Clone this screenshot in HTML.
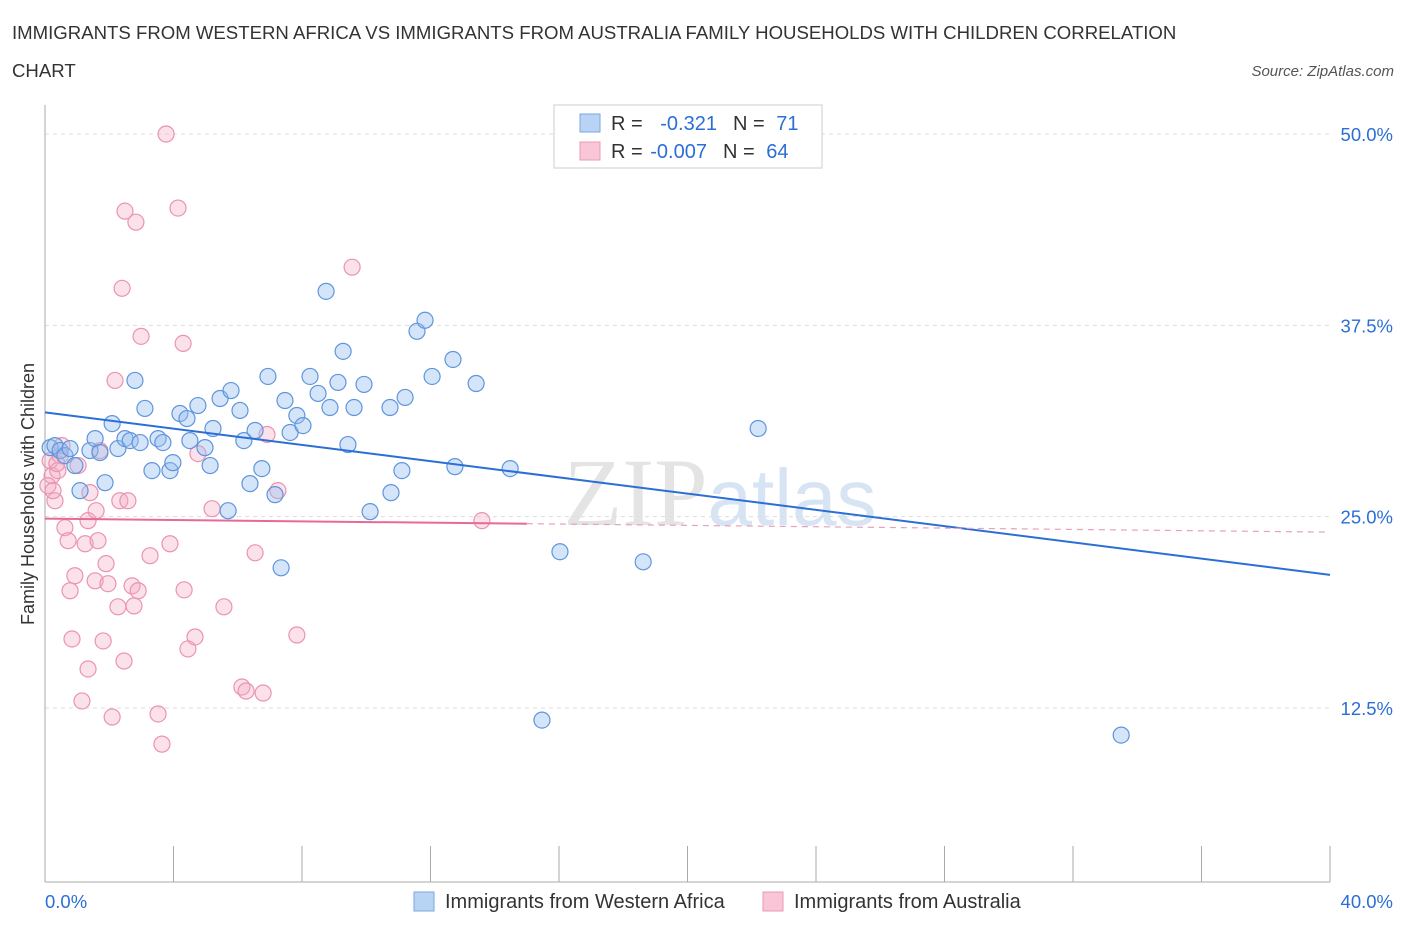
<!DOCTYPE html>
<html><head><meta charset="utf-8"><style>
body{margin:0;background:#fff;font-family:"Liberation Sans",sans-serif;}
</style></head><body>
<svg id="c" width="1406" height="930" xmlns="http://www.w3.org/2000/svg">
<text x="12" y="39" font-size="18.6" fill="#333">IMMIGRANTS FROM WESTERN AFRICA VS IMMIGRANTS FROM AUSTRALIA FAMILY HOUSEHOLDS WITH CHILDREN CORRELATION</text>
<text x="12" y="77" font-size="18.6" fill="#333">CHART</text>
<text x="1394" y="76" font-size="15" fill="#555" font-style="italic" text-anchor="end">Source: ZipAtlas.com</text>
<text x="720" y="525" font-size="96" fill="#e4e4e4" text-anchor="middle" font-family="Liberation Serif,serif">ZIP<tspan fill="#d6e4f3" font-family="Liberation Sans,sans-serif" font-size="80">atlas</tspan></text>
<text transform="translate(34,494) rotate(-90)" font-size="18" fill="#333" text-anchor="middle">Family Households with Children</text>
<g id="grid"></g><g id="axes"></g><g id="marks"></g>
<g>
<rect x="554" y="105" width="268" height="63" fill="#fff" stroke="#ccc"/>
<rect x="580" y="114" width="20" height="18" fill="#b9d3f5" stroke="#7aa7e0"/>
<rect x="580" y="142" width="20" height="18" fill="#f8c6d6" stroke="#e99ab4"/>
<text x="611" y="130" font-size="20" fill="#333">R = <tspan fill="#2b6fd6" dx="12">-0.321</tspan><tspan dx="16" fill="#333">N = </tspan><tspan fill="#2b6fd6" dx="6">71</tspan></text>
<text x="611" y="158" font-size="20" fill="#333">R = <tspan fill="#2b6fd6" dx="2">-0.007</tspan><tspan dx="16" fill="#333">N = </tspan><tspan fill="#2b6fd6" dx="6">64</tspan></text>
</g>
<g>
<rect x="414" y="892" width="20" height="19" fill="#b9d3f5" stroke="#7aa7e0"/>
<text x="445" y="908" font-size="20" fill="#333">Immigrants from Western Africa</text>
<rect x="763" y="892" width="20" height="19" fill="#f8c6d6" stroke="#e99ab4"/>
<text x="794" y="908" font-size="20" fill="#333">Immigrants from Australia</text>
</g>
</svg>
<script>
const blueX=[0.16,0.31,0.47,0.62,0.78,0.93,1.09,1.40,1.56,1.71,1.87,2.09,2.27,2.49,2.65,2.80,2.96,3.11,3.33,3.52,3.67,3.89,3.98,4.20,4.42,4.51,4.76,4.98,5.14,5.23,5.45,5.70,5.79,6.07,6.19,6.54,6.75,6.38,6.94,7.16,7.35,7.47,7.63,7.84,8.03,8.25,8.50,8.75,8.87,9.12,9.28,9.43,9.62,9.93,10.12,10.74,10.77,11.11,11.21,11.58,11.83,12.05,12.70,12.76,13.42,14.48,15.47,16.03,18.62,22.20,33.50];
const blueY=[29.51,29.64,29.32,28.99,29.45,28.34,26.70,29.32,30.10,29.19,27.22,31.08,29.45,30.10,29.97,33.90,29.84,32.07,28.01,30.10,29.84,28.01,28.53,31.74,31.41,29.97,32.26,29.51,28.34,30.76,32.72,25.39,33.24,31.94,29.97,30.63,28.14,27.16,34.16,26.44,21.66,32.59,30.50,31.61,30.95,34.16,33.05,39.72,32.13,33.77,35.80,29.71,32.13,33.64,25.33,32.13,26.57,28.01,32.79,37.11,37.83,34.16,35.27,28.27,33.70,28.14,11.71,22.71,22.05,30.76,10.73];
const pinkX=[0.16,0.22,0.31,0.40,0.47,0.53,0.62,0.72,0.78,0.84,0.93,1.03,1.15,1.25,1.34,1.34,1.40,1.56,1.59,1.65,1.71,1.81,1.90,1.96,2.09,2.18,2.27,2.33,2.40,2.46,2.49,2.58,2.71,2.77,2.83,2.90,2.99,3.27,3.52,3.64,3.77,3.89,4.14,4.30,4.33,4.45,4.67,4.76,5.20,5.57,6.13,6.26,6.54,6.79,6.91,7.25,7.84,9.56,13.60,0.09,0.25,0.37];
const pinkY=[28.66,27.68,26.04,28.01,28.99,29.64,24.28,23.43,20.16,17.01,21.14,28.34,12.96,23.23,15.05,24.74,26.57,20.81,25.39,23.43,29.32,16.88,21.93,20.62,11.91,33.90,19.11,26.04,39.92,15.57,44.96,26.04,20.48,19.17,44.24,20.16,36.78,22.45,12.11,10.14,50.00,23.23,45.16,36.32,20.22,16.36,17.14,29.12,25.52,19.11,13.87,13.61,22.64,13.48,30.37,26.70,17.27,41.30,24.74,27.03,26.70,28.47];
const blueTrend=[31.81,21.20];
const pinkTrend=[24.87,23.99];
const pinkSolidEnd=15;
const yTicks=[12.5,25,37.5,50];
const yTickLabels=["12.5%","25.0%","37.5%","50.0%"];
const xTicks=[0,4,8,12,16,20,24,28,32,36,40];

const NS="http://www.w3.org/2000/svg";
const sx=v=>45+v/40*1285;
const sy=v=>134+(50-v)/37.5*574;
function mk(tag,attrs,parent){const e=document.createElementNS(NS,tag);for(const k in attrs)e.setAttribute(k,attrs[k]);parent.appendChild(e);return e;}
const grid=document.getElementById('grid'),axes=document.getElementById('axes'),marks=document.getElementById('marks');
yTicks.forEach((t,i)=>{
  const l=mk('line',{x1:45,x2:1330,y1:sy(t),y2:sy(t),stroke:'#ddd','stroke-dasharray':'4,4'},grid);
  
  
  const tx=mk('text',{x:1393,y:sy(t)+7,'font-size':18.5,fill:'#2b6fd6','text-anchor':'end'},axes);
  tx.textContent=yTickLabels[i];
  
  
});
const ax=mk('line',{x1:45,x2:45,y1:105,y2:882,stroke:'#aaa'},axes);


const bx=mk('line',{x1:45,x2:1330,y1:882,y2:882,stroke:'#aaa'},axes);


xTicks.forEach(t=>{
  const l=mk('line',{x1:sx(t),x2:sx(t),y1:846,y2:882,stroke:'#aaa'},axes);
  
  
});
const xl0=mk('text',{x:45,y:908,'font-size':18.5,fill:'#2b6fd6'},axes);xl0.textContent='0.0%';


const xl1=mk('text',{x:1393,y:908,'font-size':18.5,fill:'#2b6fd6','text-anchor':'end'},axes);xl1.textContent='40.0%';



pinkX.forEach((x,i)=>{
  const c=mk('circle',{cx:sx(x),cy:sy(pinkY[i]),r:8,fill:'rgba(244,170,196,0.35)',stroke:'#eb93b1','stroke-width':1.2},marks);
  
  
});
blueX.forEach((x,i)=>{
  const c=mk('circle',{cx:sx(x),cy:sy(blueY[i]),r:8,fill:'rgba(150,190,240,0.4)',stroke:'#5f95dc','stroke-width':1.2},marks);
  
  
});
const bt=mk('line',{x1:sx(0),y1:sy(blueTrend[0]),x2:sx(40),y2:sy(blueTrend[1]),stroke:'#2b6fd6','stroke-width':2},marks);


const pm=pinkTrend[0]+(pinkTrend[1]-pinkTrend[0])*pinkSolidEnd/40;
const pt=mk('line',{x1:sx(0),y1:sy(pinkTrend[0]),x2:sx(pinkSolidEnd),y2:sy(pm),stroke:'#e8689a','stroke-width':2},marks);


const pd=mk('line',{x1:sx(pinkSolidEnd),y1:sy(pm),x2:sx(40),y2:sy(pinkTrend[1]),stroke:'#e8a0bb','stroke-width':1.2,'stroke-dasharray':'6,5'},marks);


</script>
</body></html>
